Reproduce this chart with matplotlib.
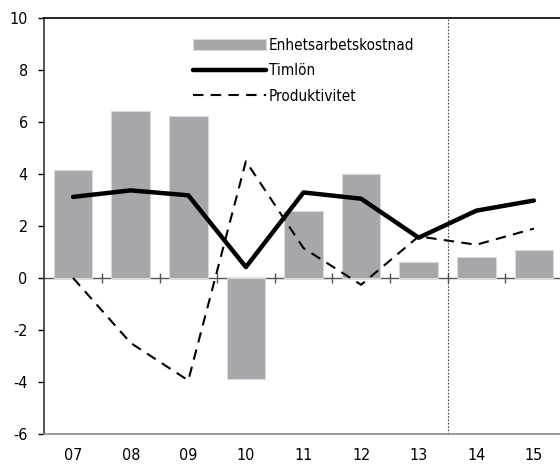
import numpy as np
from matplotlib import pyplot as plt

years = ["07", "08", "09", "10", "11", "12", "13", "14", "15"]
unit_labour_cost = [4.14, 6.43, 6.23, -3.9, 2.59, 4.0, 0.62, 0.79, 1.06]
wages = [3.12, 3.37, 3.18, 0.42, 3.29, 3.05, 1.55, 2.59, 2.98]
productivity = [0.0, -2.5, -3.94, 4.49, 1.15, -0.26, 1.6, 1.28, 1.9]
forecast_start = 6.5

plt.rcParams["font.family"] = ["DejaVu Sans"]
plt.rcParams["font.stretch"] = "condensed"
plt.rcParams["font.size"] = 11.5
plt.rcParams["axes.unicode_minus"] = False

fig = plt.figure(figsize=(5.6, 4.65), dpi=100)
ax = fig.add_axes([44.3 / 560, 31 / 465, 518.4 / 560, 416 / 465])

x = np.arange(len(years))
ax.bar(x, unit_labour_cost, width=0.667, color="#a6a7aa", edgecolor="#d8d8d8",
       linewidth=0.8, label="Enhetsarbetskostnad", zorder=2)
ax.plot(x, wages, color="black", linewidth=3.2, solid_capstyle="round",
        label="Timlön", zorder=4)
ax.plot(x, productivity, color="black", linewidth=1.5, dashes=(5, 3.5),
        label="Produktivitet", zorder=3)

# zero line with small ticks between the years
ax.axhline(0, color="#555555", linewidth=1.0, zorder=1)
ax.vlines(x[:-1] + 0.5, -0.2, 0.2, color="#555555", linewidth=1.0, zorder=1)
# forecast divider
ax.axvline(forecast_start, color="#444444", linewidth=0.8, linestyle=(0, (1.5, 1.5)), zorder=1)

ax.set_xlim(-0.5, len(years) - 0.5)
ax.set_ylim(-6, 10)
ax.set_yticks(np.arange(-6, 11, 2))
ax.set_xticks(x)
ax.set_xticklabels(years)
ax.tick_params(axis="x", length=0, pad=10)
ax.tick_params(axis="y", direction="out", length=4, width=1, pad=8)

ax.spines["right"].set_visible(False)
ax.spines["top"].set_linewidth(1.2)
ax.spines["left"].set_linewidth(1.2)
ax.spines["left"].set_color("#333333")
ax.spines["bottom"].set_color("#888888")
ax.spines["bottom"].set_linewidth(1.2)

handles, labels = ax.get_legend_handles_labels()
order = [2, 0, 1]
ax.legend([handles[i] for i in order], [labels[i] for i in order],
          loc="upper left", bbox_to_anchor=(0.275, 0.967), frameon=False,
          handlelength=4.8, handletextpad=0.15, labelspacing=0.68,
          borderaxespad=0, fontsize=11)

fig.savefig("out.png", dpi=100)
